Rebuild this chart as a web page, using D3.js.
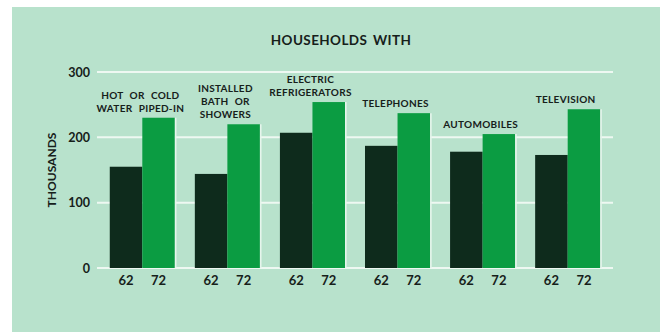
<!DOCTYPE html>
<html>
<head>
<meta charset="utf-8">
<script src="https://cdn.jsdelivr.net/npm/d3@7"></script>
<style>
  html, body { margin: 0; padding: 0; background: #ffffff; }
  svg { display: block; }
  text { font-family: Lato, "Open Sans", sans-serif; font-weight: 700; fill: #16201a; }
</style>
</head>
<body>
<svg id="chart" width="660" height="332"></svg>
<script>
// Household amenities, thousands of households, 1962 vs 1972
const categories = [
  ["HOT OR COLD", "WATER PIPED-IN"],
  ["INSTALLED", "BATH OR", "SHOWERS"],
  ["ELECTRIC", "REFRIGERATORS"],
  ["TELEPHONES"],
  ["AUTOMOBILES"],
  ["TELEVISION"]
];
const years = ["62", "72"];
const values1962 = [155, 144, 207, 187, 178, 173];
const values1972 = [230, 220, 254, 237, 205, 243];
const yTicks = [0, 100, 200, 300];

const svg = d3.select("#chart");
const W = 660, H = 332;

// mint panel
svg.append("rect")
  .attr("x", 12).attr("y", 7)
  .attr("width", W - 12).attr("height", H - 7)
  .attr("fill", "#b8e2cc");

const left = 97, right = 613;
const x = d3.scaleBand()
  .domain(d3.range(categories.length))
  .range([left, right])
  .paddingInner(0.235)
  .paddingOuter(0.15);
const xs = d3.scaleBand().domain(years).range([0, x.bandwidth()]);
const y = d3.scaleLinear().domain([0, 300]).range([268, 72]);

// gridlines
svg.append("g").selectAll("line")
  .data(yTicks)
  .join("line")
  .attr("x1", left).attr("x2", right)
  .attr("y1", d => y(d)).attr("y2", d => y(d))
  .attr("stroke", "#eef8f2").attr("stroke-width", 2);

// tick labels
svg.append("g").selectAll("text")
  .data(yTicks)
  .join("text")
  .attr("x", 90).attr("y", d => y(d))
  .attr("dy", "0.36em")
  .attr("text-anchor", "end")
  .attr("font-size", 12.5)
  .text(d => d);

// axis title
svg.append("text")
  .attr("transform", `translate(56,${y(150)}) rotate(-90)`)
  .attr("text-anchor", "middle")
  .attr("font-size", 12)
  .text("THOUSANDS");

// chart title
svg.append("text")
  .attr("x", 341).attr("y", 45)
  .attr("text-anchor", "middle")
  .attr("font-size", 13.5)
  .attr("letter-spacing", 0.4)
  .attr("word-spacing", 2)
  .text("HOUSEHOLDS WITH");

const rows = categories.map((c, i) => ({ i, label: c, v: [values1962[i], values1972[i]] }));

const groups = svg.append("g").selectAll("g")
  .data(rows)
  .join("g")
  .attr("transform", d => `translate(${x(d.i)},0)`);

// bars: 1962 dark, 1972 bright green
const barColors = ["#0e2b1c", "#0b9c42"];
groups.selectAll("rect.bar")
  .data(d => d.v.map((v, k) => ({ k, v })))
  .join("rect")
  .attr("class", "bar")
  .attr("x", d => xs(years[d.k]))
  .attr("width", xs.bandwidth())
  .attr("y", d => y(d.v))
  .attr("height", d => y(0) - y(d.v))
  .attr("fill", d => barColors[d.k]);

// light edge on the outer side of each bar pair
groups.append("line")
  .attr("x1", x.bandwidth() + 0.8).attr("x2", x.bandwidth() + 0.8)
  .attr("y1", d => y(d.v[1])).attr("y2", y(0))
  .attr("stroke", "#e6f5ec").attr("stroke-width", 1.6);

// year labels
groups.selectAll("text.yr")
  .data(years)
  .join("text")
  .attr("class", "yr")
  .attr("x", d => xs(d) + xs.bandwidth() / 2)
  .attr("y", 285)
  .attr("text-anchor", "middle")
  .attr("font-size", 13)
  .text(d => d);

// category labels stacked above the taller bar
groups.each(function(d) {
  const g = d3.select(this);
  const top = y(d3.max(d.v)) - 6;
  const n = d.label.length;
  d.label.forEach((line, j) => {
    g.append("text")
      .attr("x", x.bandwidth() / 2 - 2)
      .attr("y", top - (n - 1 - j) * 13)
      .attr("text-anchor", "middle")
      .attr("font-size", 10)
      .attr("letter-spacing", 0.3)
      .attr("word-spacing", 3.5)
      .text(line);
  });
});
</script>
</body>
</html>
